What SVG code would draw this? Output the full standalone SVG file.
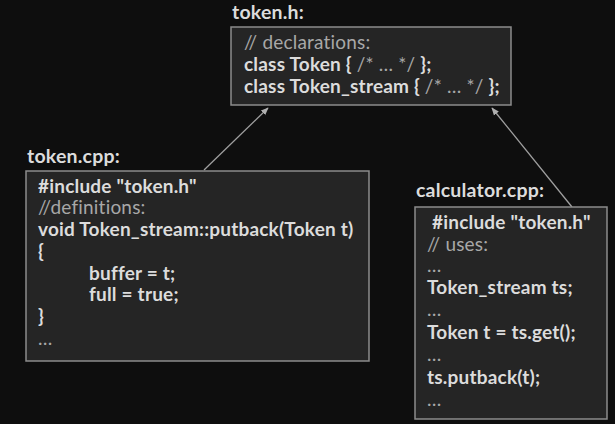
<svg xmlns="http://www.w3.org/2000/svg" width="615" height="424" viewBox="0 0 615 424">
<defs>
<style>
.bg{fill:#0e0e0e}
.box{fill:#252525;stroke:#8c8c8c;stroke-width:1.5}
.t{font-family:Lato,"Open Sans",sans-serif;font-size:19px;letter-spacing:0.2px;fill:#dcdcdc;font-weight:bold}
.c{font-weight:normal;fill:#a8a8a8}
.lbl{font-family:Lato,"Open Sans",sans-serif;font-size:19.5px;letter-spacing:0.2px;fill:#dcdcdc;font-weight:bold}
.conn{stroke:#a0a0a0;stroke-width:1.3;fill:none}
</style>
<marker id="ah" viewBox="0 0 10 10" refX="9" refY="5" markerWidth="6" markerHeight="6" orient="auto">
<path d="M0,1 L10,5 L0,9 z" fill="#b0b0b0"/>
</marker>
</defs>
<rect class="bg" x="0" y="0" width="615" height="424"/>
<g id="connectors">
<line class="conn" x1="204" y1="170" x2="268" y2="108" marker-end="url(#ah)"/>
<line class="conn" x1="572" y1="207" x2="492" y2="108" marker-end="url(#ah)"/>
</g>
<g id="token_h">
<text class="lbl" x="232" y="19">token.h:</text>
<rect class="box" x="231" y="27" width="280" height="78"/>
<text class="t" x="244" y="49"><tspan class="c">// declarations:</tspan></text>
<text class="t" x="244" y="71">class Token { <tspan class="c">/* … */</tspan> };</text>
<text class="t" x="244" y="93">class Token_stream { <tspan class="c">/* … */</tspan> };</text>
</g>
<g id="token_cpp">
<text class="lbl" x="27" y="163">token.cpp:</text>
<rect class="box" x="26" y="171" width="343" height="190"/>
<text class="t" x="38" y="193">#include "token.h"</text>
<text class="t c" x="38" y="214">//definitions:</text>
<text class="t" x="38" y="236">void Token_stream::putback(Token t)</text>
<text class="t" x="38" y="258">{</text>
<text class="t" x="89" y="280">buffer = t;</text>
<text class="t" x="89" y="301">full = true;</text>
<text class="t" x="38" y="323">}</text>
<text class="t c" x="38" y="345">…</text>
</g>
<g id="calculator_cpp">
<text class="lbl" x="416" y="197">calculator.cpp:</text>
<rect class="box" x="415" y="207" width="192" height="212"/>
<text class="t" x="432" y="229">#include "token.h"</text>
<text class="t c" x="427" y="251">// uses:</text>
<text class="t c" x="427" y="272">…</text>
<text class="t" x="427" y="294">Token_stream ts;</text>
<text class="t c" x="427" y="316">…</text>
<text class="t" x="427" y="339">Token t = ts.get();</text>
<text class="t c" x="427" y="361">…</text>
<text class="t" x="427" y="384">ts.putback(t);</text>
<text class="t c" x="427" y="406">…</text>
</g>
</svg>
